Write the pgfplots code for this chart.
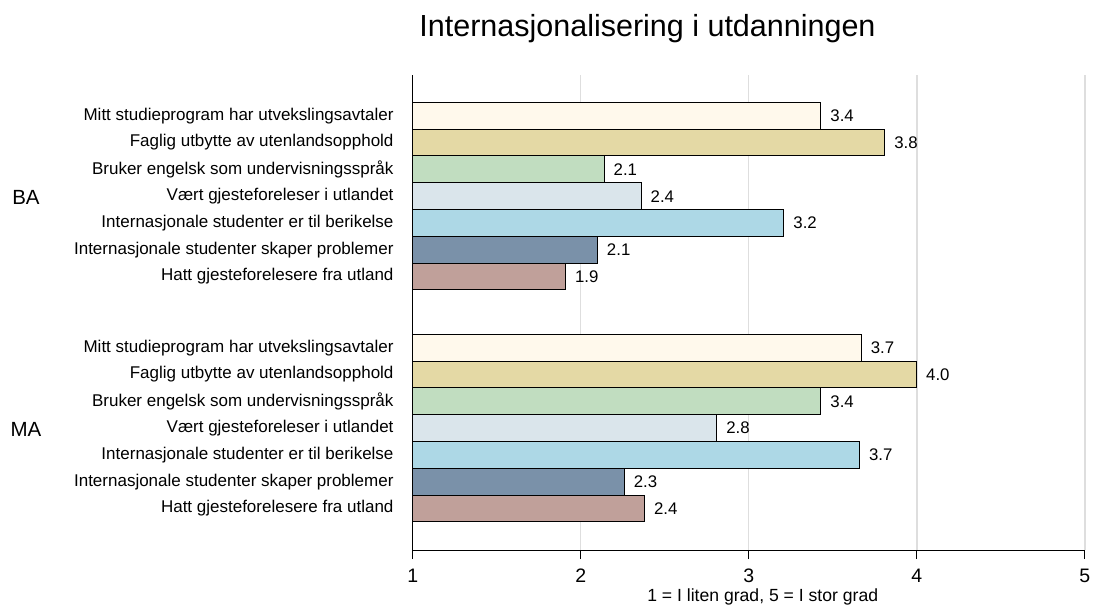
\documentclass[border=0pt]{standalone}
\usepackage{pgfplots}
\pgfplotsset{compat=1.18}
\usepackage{fontspec}
\setmainfont{Liberation Sans}

\definecolor{cMitt}{HTML}{FFF9EC}
\definecolor{cFaglig}{HTML}{E4D9A5}
\definecolor{cBruker}{HTML}{C1DDC0}
\definecolor{cVaert}{HTML}{DAE5EB}
\definecolor{cBerik}{HTML}{ADD8E6}
\definecolor{cProbl}{HTML}{7A91A9}
\definecolor{cHatt}{HTML}{C0A09A}

\begin{document}
\begin{tikzpicture}
\begin{axis}[
  scale only axis, width=672bp, height=475bp,
  xbar, bar width=1, bar shift=0pt,
  xmin=1, xmax=5, ymin=0, ymax=17.72,
  axis x line*=bottom, axis y line*=left,
  axis line style={black, line width=1bp},
  xtick={1,2,3,4,5},
  tick align=outside,
  x tick style={black, line width=1bp},
  major tick length=9bp,
  ytick style={draw=none},
  ytick={1.55,2.55,3.55,4.55,5.55,6.55,7.55,10.2,11.2,12.2,13.2,14.2,15.2,16.2},
  yticklabels={Hatt gjesteforelesere fra utland,
    Internasjonale studenter skaper problemer,
    Internasjonale studenter er til berikelse,
    Vært gjesteforeleser i utlandet,
    Bruker engelsk som undervisningsspråk,
    Faglig utbytte av utenlandsopphold,
    Mitt studieprogram har utvekslingsavtaler,
    Hatt gjesteforelesere fra utland,
    Internasjonale studenter skaper problemer,
    Internasjonale studenter er til berikelse,
    Vært gjesteforeleser i utlandet,
    Bruker engelsk som undervisningsspråk,
    Faglig utbytte av utenlandsopphold,
    Mitt studieprogram har utvekslingsavtaler},
  yticklabel style={font=\fontsize{17bp}{20bp}\selectfont, inner sep=0pt, xshift=-10bp},
  xticklabel style={font=\fontsize{19.5bp}{22bp}\selectfont, inner sep=0pt, yshift=-10bp},
  /pgf/number format/assume math mode=true,
  xmajorgrids, grid style={color=black!13, line width=1.6bp},
  xlabel={1 = I liten grad, 5 = I stor grad},
  xlabel style={font=\fontsize{17.6bp}{20bp}\selectfont, inner sep=0pt, yshift=-6bp, xshift=14bp},
  title={Internasjonalisering i utdanningen},
  title style={font=\fontsize{30.5bp}{34bp}\selectfont, at={(axis description cs:0.3494,1)}, anchor=center, yshift=40bp},
  nodes near coords,
  nodes near coords style={font=\fontsize{16.8bp}{20bp}\selectfont, anchor=west, inner sep=0pt, xshift=9bp,
    /pgf/number format/.cd, fixed, zerofill, precision=1, assume math mode=true},
  every axis plot/.append style={draw=black, line width=1bp},
  clip=false,
]
% BA group (upper) and MA group (lower): one plot per item
\addplot[fill=cMitt]   coordinates {(3.43,16.2) (3.67,7.55)};
\addplot[fill=cFaglig] coordinates {(3.81,15.2) (4.00,6.55)};
\addplot[fill=cBruker] coordinates {(2.14,14.2) (3.43,5.55)};
\addplot[fill=cVaert]  coordinates {(2.36,13.2) (2.81,4.55)};
\addplot[fill=cBerik]  coordinates {(3.21,12.2) (3.66,3.55)};
\addplot[fill=cProbl]  coordinates {(2.10,11.2) (2.26,2.55)};
\addplot[fill=cHatt]   coordinates {(1.91,10.2) (2.38,1.55)};
\coordinate (O) at (rel axis cs:0,0);
\end{axis}
\node[font=\fontsize{20.5bp}{24bp}\selectfont] at ([shift={(-386.7bp,353bp)}]O) {BA};
\node[font=\fontsize{20.5bp}{24bp}\selectfont] at ([shift={(-386.7bp,121bp)}]O) {MA};
% page: 1097 x 606 around the plot area
\pgfresetboundingbox
\path[use as bounding box] ([shift={(-412.7bp,-56bp)}]O) rectangle ([shift={(684.3bp,550bp)}]O);
\end{tikzpicture}
\end{document}
